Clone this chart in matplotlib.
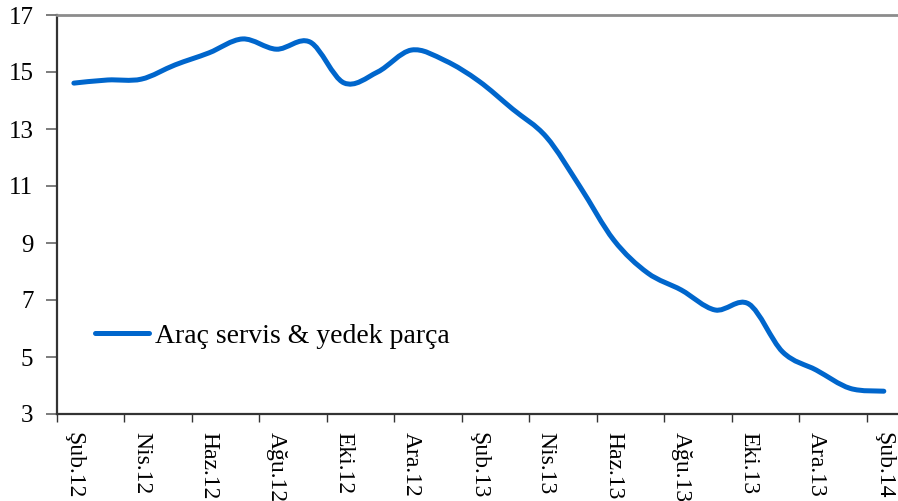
import numpy as np
import matplotlib
matplotlib.use("Agg")
import matplotlib.pyplot as plt
from matplotlib.path import Path
from matplotlib.patches import PathPatch
from matplotlib.lines import Line2D

# aylik degerler, Şub.12 - Şub.14
months = ["Şub.12", "Mar.12", "Nis.12", "May.12", "Haz.12", "Tem.12", "Ağu.12",
          "Eyl.12", "Eki.12", "Kas.12", "Ara.12", "Oca.13", "Şub.13", "Mar.13",
          "Nis.13", "May.13", "Haz.13", "Tem.13", "Ağu.13", "Eyl.13", "Eki.13",
          "Kas.13", "Ara.13", "Oca.14", "Şub.14"]
values = [14.61, 14.72, 14.75, 15.25, 15.67, 16.16, 15.80, 16.05, 14.62, 15.00,
          15.77, 15.40, 14.68, 13.70, 12.72, 10.97, 9.10, 7.95, 7.35, 6.65,
          6.86, 5.18, 4.54, 3.90, 3.80]
series_name = "Araç servis & yedek parça"
yticks = [3, 5, 7, 9, 11, 13, 15, 17]

plt.rcParams["font.family"] = ["Liberation Serif", "DejaVu Serif"]
plt.rcParams["font.size"] = 17

fig = plt.figure(figsize=(8.98, 5.01), dpi=100)
ax = fig.add_axes([57 / 898, 1 - 414 / 501, 1 - 57 / 898, (414 - 15) / 501])

color = "#0066CC"

# Excel-style smoothed line: Catmull-Rom -> cubic Bezier segments
x = np.arange(len(values), dtype=float)
y = np.array(values, dtype=float)
verts = [(x[0], y[0])]
codes = [Path.MOVETO]
for i in range(len(x) - 1):
    p0 = (x[i - 1], y[i - 1]) if i > 0 else (x[i], y[i])
    p1 = (x[i], y[i])
    p2 = (x[i + 1], y[i + 1])
    p3 = (x[i + 2], y[i + 2]) if i + 2 < len(x) else (x[i + 1], y[i + 1])
    c1 = (p1[0] + (p2[0] - p0[0]) / 6, p1[1] + (p2[1] - p0[1]) / 6)
    c2 = (p2[0] - (p3[0] - p1[0]) / 6, p2[1] - (p3[1] - p1[1]) / 6)
    verts += [c1, c2, p2]
    codes += [Path.CURVE4] * 3
patch = PathPatch(Path(verts, codes), facecolor="none", edgecolor=color,
                  linewidth=3.6, capstyle="round", joinstyle="round", zorder=3)
ax.add_patch(patch)

ax.set_xlim(-0.5, 24.42)
ax.set_ylim(3, 17)

ax.set_yticks(yticks)
ax.set_yticklabels([str(t) for t in yticks], fontsize=18)

# tick marks between categories, labels on categories
ax.set_xticks(np.arange(-0.5, 24, 2))
ax.set_xticklabels([])
ax.set_xticks(np.arange(0, 25, 2), minor=True)
ax.set_xticklabels(months[::2], minor=True, rotation=270, va="top", ha="center",
                   fontsize=17)
ax.tick_params(axis="x", which="major", direction="out", length=6, width=1, color="#333333")
ax.tick_params(axis="x", which="minor", length=0, pad=13)
ax.tick_params(axis="y", direction="out", length=8, width=1.2, color="#666666", pad=9)

ax.spines["right"].set_visible(False)
ax.spines["top"].set_color("#8c8c8c")
ax.spines["top"].set_linewidth(2)
ax.spines["left"].set_color("#333333")
ax.spines["left"].set_linewidth(1.6)
ax.spines["bottom"].set_color("#333333")
ax.spines["bottom"].set_linewidth(1.6)

handle = Line2D([], [], color=color, linewidth=3.6, solid_capstyle="round")
ax.legend([handle], [series_name], loc="center left", bbox_to_anchor=(0.045, 0.195),
          frameon=False, borderpad=0, borderaxespad=0, handlelength=1.95,
          handletextpad=0.2, fontsize=20)

fig.savefig("out.png", dpi=100)
